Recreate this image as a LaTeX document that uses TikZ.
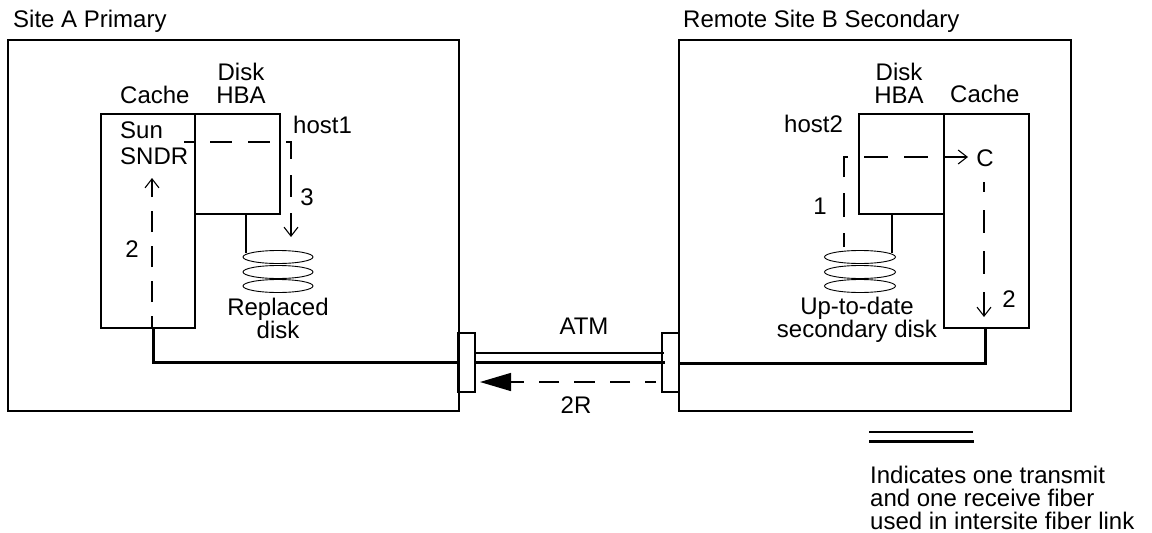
\documentclass[tikz,border=0pt]{standalone}
\usepackage{fontspec}
\setmainfont{Liberation Sans}
\usetikzlibrary{arrows.meta}
\tikzset{
  x=1pt,y=-1pt,
  thinbox/.style={draw=black,line width=1.5pt,fill=none},
  lbl/.style={font=\fontsize{24}{23}\selectfont,inner sep=0pt,align=center,text=black,anchor=base},
  lbll/.style={lbl,align=left,anchor=base west},
  wire/.style={line width=1.4pt},
  fiber/.style={line width=1.9pt},
  trunk/.style={line width=3pt},
  flow/.style={line width=1.4pt},
  openhead/.style={-{Straight Barb[length=9pt,width=14pt,line width=1.1pt]}},
  platter/.style={draw=black,line width=.9pt,fill=white},
}
\newcommand{\boxat}[5]{\path[thinbox] (#2,#3) rectangle (#4,#5);\coordinate (#1nw) at (#2,#3);\coordinate (#1se) at (#4,#5);}
\begin{document}
\begin{tikzpicture}
\useasboundingbox (0,0) rectangle (1152,533);
% site boxes
\boxat{sa}{8}{40}{459}{411}
\boxat{sb}{679}{40}{1071}{411}
\boxat{ca}{101}{114}{195}{328}
\boxat{ha}{195}{114}{280}{214}
\boxat{hb}{859}{114}{944}{214}
\boxat{cb}{944}{114}{1029}{328}
\boxat{pa}{458}{333}{475}{392}
\boxat{pb}{662}{333}{679}{392}
% coordinates
\coordinate (tapA) at (153,328);
\coordinate (tapAb) at (153,362);
\coordinate (portAw) at (458,362);
\coordinate (tapB) at (985,328);
\coordinate (tapBb) at (985,363);
\coordinate (portBe) at (679,363);
\coordinate (f1a) at (475,353);
\coordinate (f1b) at (664,353);
\coordinate (f2a) at (475,362);
\coordinate (f2b) at (665,362);
\coordinate (hbaA) at (246,214);
\coordinate (diskAt) at (246,253);
\coordinate (hbaB) at (892,214);
\coordinate (diskBt) at (892,253);
\coordinate (lg1a) at (869,432);
\coordinate (lg1b) at (973,432);
\coordinate (lg2a) at (869,441);
\coordinate (lg2b) at (974,441);
% trunks
\draw[trunk] (tapA) -- (tapAb) -- (portAw);
\draw[trunk] (tapB) -- (tapBb) -- (portBe);
\draw[fiber] (f1a) -- (f1b);
\draw[trunk] (f2a) -- (f2b);
\draw[wire] (hbaA) -- (diskAt);
\draw[wire] (hbaB) -- (diskBt);
\draw[fiber] (lg1a) -- (lg1b);
\draw[trunk] (lg2a) -- (lg2b);
% disks
\foreach \y in {286,272,257}{
  \path[platter] (278,\y) ellipse [x radius=35,y radius=6.5];
  \path[platter] (860,\y) ellipse [x radius=35.5,y radius=6.5];
}
% dashed flows
\coordinate (a2s) at (152,328);
\coordinate (a2e) at (152,178);
\coordinate (a3s) at (184,142);
\coordinate (a3c) at (291,142);
\coordinate (a3e) at (291,237);
\coordinate (b1s) at (844,247);
\coordinate (b1c) at (844,157);
\coordinate (b1e) at (968,157);
\coordinate (b2s) at (984,182);
\coordinate (b2e) at (984,317);
\coordinate (r2s) at (656,382);
\coordinate (r2e) at (480,382);
\draw[flow,openhead,dash pattern=on 21pt off 14pt,dash phase=9pt] (a2s) -- (a2e);
\draw[flow,openhead,dash pattern=on 22pt off 16pt,dash phase=12pt] (a3s) -- (a3c) -- (a3e);
\draw[flow,openhead,dash pattern=on 24pt off 16pt,dash phase=10pt] (b1s) -- (b1c) -- (b1e);
\draw[flow,openhead,dash pattern=on 23pt off 18pt,dash phase=13pt] (b2s) -- (b2e);
\draw[flow,dash pattern=on 20.5pt off 15pt,dash phase=9.5pt,-{Triangle[length=31pt,width=18pt]}] (r2s) -- (r2e);
% labels
\node[lbll] (t1) at (13,27) {Site A Primary};
\node[lbll] (t2) at (683,27) {Remote Site B Secondary};
\node[lbll] (t3) at (120,103) {Cache};
\node[lbl] (t4) at (241,103) {Disk\\HBA};
\node[lbll] (t5) at (293,133) {host1};
\node[lbll,font=\fontsize{24}{26}\selectfont] (t6) at (120,164) {Sun\\SNDR};
\node[lbl] (t7) at (132,257) {2};
\node[lbl] (t8) at (307,205) {3};
\node[lbl] (t9) at (278,338) {Replaced\\disk};
\node[lbl] (t10) at (899,103) {Disk\\HBA};
\node[lbll] (t11) at (950,102) {Cache};
\node[lbll] (t12) at (784,132) {host2};
\node[lbl] (t13) at (820,214) {1};
\node[lbl] (t14) at (985,166) {C};
\node[lbl] (t15) at (1009,307) {2};
\node[lbl] (t16) at (857,337) {Up-to-date\\secondary disk};
\node[lbl] (t17) at (584,334) {ATM};
\node[lbl] (t18) at (576,413) {2R};
\node[lbll] (t19) at (870,529) {Indicates one transmit\\and one receive fiber\\used in intersite fiber link};
\end{tikzpicture}
\end{document}
